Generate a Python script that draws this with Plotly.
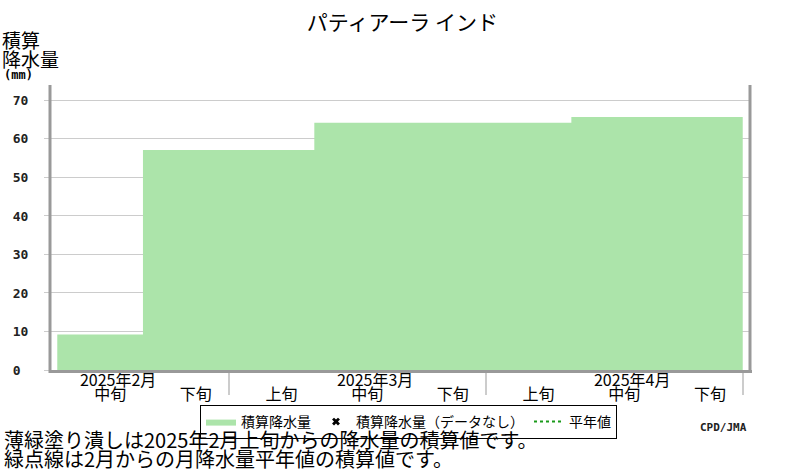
import plotly.graph_objs as go

# dekad accumulated precipitation (mm)
months = ['2025年2月', '2025年3月', '2025年4月']
dekads = ['中旬', '下旬', '上旬', '中旬', '下旬', '上旬', '中旬', '下旬']
dekad_month = [0, 0, 1, 1, 1, 2, 2, 2]
accum = [9.2, 57.1, 57.1, 64.2, 64.2, 64.2, 65.7, 65.7]
y_ticks = [0, 10, 20, 30, 40, 50, 60, 70]

JP = 'Noto Sans CJK JP'
FILL = '#ace4aa'
FRAME = '#999999'
GRID = '#cccccc'

n = len(accum)
xrange_ = [-0.085, n + 0.085]

# tick positions derived from the data
dekad_pos = [i + 0.5 + 0.117 for i in range(n)]
month_pos = []
for m in range(len(months)):
    idx = [i for i, mm in enumerate(dekad_month) if mm == m]
    month_pos.append(idx[0] + (1 if len(idx) == 3 else 0) + 0.5 + 0.21)
month_edges = [i for i in range(1, n) if dekad_month[i] != dekad_month[i - 1]] + [n]

datalist = []
# step area: each dekad holds its accumulated value
datalist.append(go.Scatter(x=list(range(n + 1)), y=accum + [accum[-1]], mode='lines',
                           line=dict(shape='hv', width=0, color=FILL), fill='tozeroy',
                           fillcolor=FILL, name='積算降水量', hoverinfo='y'))
datalist.append(go.Scatter(x=[None], y=[None], mode='markers',
                           marker=dict(symbol='x', color='black', size=7),
                           name='積算降水量（データなし）'))
datalist.append(go.Scatter(x=[None], y=[None], mode='lines',
                           line=dict(color='#1a9a1a', dash='dot', width=2),
                           name='平年値'))
# empty traces so the overlaying label axes get drawn
datalist.append(go.Scatter(x=[None], y=[None], xaxis='x2', showlegend=False, hoverinfo='skip'))
datalist.append(go.Scatter(x=[None], y=[None], xaxis='x3', showlegend=False, hoverinfo='skip'))

layout = dict()
layout['width'] = 800
layout['height'] = 470
layout['plot_bgcolor'] = 'white'
layout['paper_bgcolor'] = 'white'
layout['margin'] = dict(l=50, r=50, t=85, b=100)
layout['font'] = dict(family=JP, size=16, color='black')
layout['title'] = dict(text='パティアーラ インド', x=0.503, xanchor='center', y=0.952, yanchor='middle',
                       font=dict(family=JP, size=21))

# dekad labels
layout['xaxis'] = dict(range=xrange_, showgrid=False, zeroline=False, showline=False,
                       tickvals=dekad_pos, ticktext=dekads, ticks='', ticklabelstandoff=13,
                       tickfont=dict(family=JP, size=16))
# month labels
layout['xaxis2'] = dict(range=xrange_, overlaying='x', side='bottom', anchor='y',
                        showgrid=False, zeroline=False, showline=False,
                        tickvals=month_pos, ticktext=months, ticks='', ticklabelstandoff=-1,
                        tickfont=dict(family=JP, size=16))
# month separators
layout['xaxis3'] = dict(range=xrange_, overlaying='x', side='bottom', anchor='y',
                        showgrid=False, zeroline=False, showline=False, showticklabels=False,
                        tickvals=month_edges, ticks='outside', ticklen=24, tickwidth=1.5,
                        tickcolor=GRID)
layout['yaxis'] = dict(range=[0, 74], tickvals=y_ticks,
                       ticktext=[(str(v) + '\u00a0')[:2] if v < 10 else str(v) for v in y_ticks],
                       ticks='outside', ticklen=5, tickcolor=GRID, gridcolor=GRID, gridwidth=1,
                       zeroline=False, showline=False, ticklabelstandoff=13,
                       tickfont=dict(family='DejaVu Sans Mono', size=13, weight='bold', color='#222'))

layout['legend'] = dict(orientation='h', x=(200 - 50) / 700, xanchor='left', y=-35 / 285, yanchor='top',
                        bordercolor='black', borderwidth=1, font=dict(family=JP, size=14),
                        itemwidth=30, tracegroupgap=0)
layout['showlegend'] = True

# frame: left, bottom, right (no top)
layout['shapes'] = [
    dict(type='line', xref='paper', yref='paper', x0=0, x1=0, y0=-3 / 285, y1=1,
         line=dict(color=FRAME, width=3)),
    dict(type='line', xref='paper', yref='paper', x0=0, x1=1 + 2 / 700, y0=-1.5 / 285, y1=-1.5 / 285,
         line=dict(color=FRAME, width=3)),
    dict(type='line', xref='paper', yref='paper', x0=1, x1=1, y0=-3 / 285, y1=1,
         line=dict(color=FRAME, width=3)),
]

layout['annotations'] = [
    dict(text='積算', xref='paper', yref='paper', x=-50 / 700, xanchor='left', y=1 + 45 / 285,
         yanchor='middle', showarrow=False, font=dict(family=JP, size=19)),
    dict(text='降水量', xref='paper', yref='paper', x=-50 / 700, xanchor='left', y=1 + 26 / 285,
         yanchor='middle', showarrow=False, font=dict(family=JP, size=19)),
    dict(text='(mm)', xref='paper', yref='paper', x=-48 / 700, xanchor='left', y=1 + 10 / 285,
         yanchor='middle', showarrow=False, font=dict(family='DejaVu Sans Mono', size=12, weight='bold')),
    dict(text='CPD/JMA', xref='paper', yref='paper', x=1 - 1 / 700, xanchor='right', y=-57 / 285,
         yanchor='middle', showarrow=False, font=dict(family='DejaVu Sans Mono', size=11, weight='bold', color='#222')),
    dict(text='薄緑塗り潰しは2025年2月上旬からの降水量の積算値です。', xref='paper', yref='paper',
         x=-48 / 700, xanchor='left', y=-70 / 285, yanchor='middle', showarrow=False,
         font=dict(family=JP, size=20)),
    dict(text='緑点線は2月からの月降水量平年値の積算値です。', xref='paper', yref='paper',
         x=-48 / 700, xanchor='left', y=-88.5 / 285, yanchor='middle', showarrow=False,
         font=dict(family=JP, size=20)),
]

fig = go.Figure(data=datalist, layout=layout)
fig.write_html('out.html', config={'displayModeBar': False},
               post_script="document.body.style.margin='0';")
